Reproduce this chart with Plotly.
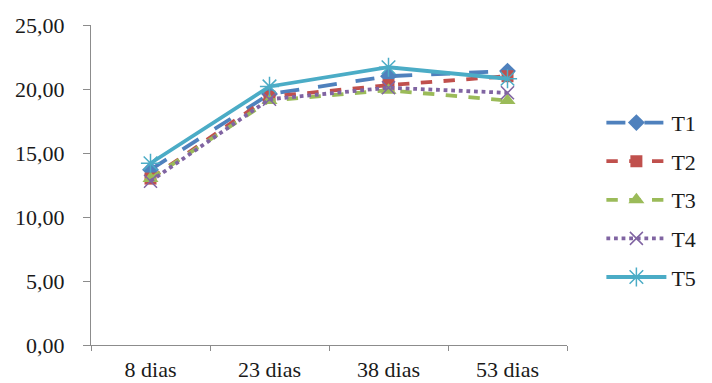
import plotly.graph_objects as go

categories = ["8 dias", "23 dias", "38 dias", "53 dias"]
t1 = [13.7, 19.6, 21.0, 21.4]
t2 = [13.0, 19.4, 20.3, 21.0]
t3 = [13.0, 19.1, 19.9, 19.1]
t4 = [12.8, 19.2, 20.1, 19.7]
t5 = [14.2, 20.2, 21.7, 20.8]
y_ticks = [0, 5, 10, 15, 20, 25]
y_tick_labels = ["0,00", "5,00", "10,00", "15,00", "20,00", "25,00"]

SERIF = "Times New Roman, Liberation Serif, serif"

series = [
    ("T1", t1, "#4F81BD", "longdash", dict(symbol="diamond", size=13)),
    ("T2", t2, "#C0504D", "dash", dict(symbol="square", size=12)),
    ("T3", t3, "#9BBB59", "dash", dict(symbol="triangle-up", size=14)),
    ("T4", t4, "#8064A2", "dot", dict(symbol="x-thin-open", size=13, line=dict(width=1.5, color="#8064A2"))),
    ("T5", t5, "#4BACC6", "solid", dict(symbol="asterisk-open", size=16, line=dict(width=1.5, color="#4BACC6"))),
]

fig = go.Figure()
for name, vals, color, dash, marker in series:
    fig.add_trace(go.Scatter(
        x=categories, y=vals, name=name, mode="lines+markers",
        line=dict(color=color, width=3.8, dash=dash),
        marker=dict(color=color, **marker),
        legendgroup=name,
    ))

fig.update_layout(
    width=712, height=383,
    margin=dict(l=91, r=144, t=25, b=38),
    plot_bgcolor="white", paper_bgcolor="white",
    font=dict(family=SERIF, size=22, color="#1a1a1a"),
    showlegend=True,
    legend=dict(
        x=1.07, y=0.76, xanchor="left", yanchor="top",
        font=dict(family=SERIF, size=22, color="#1a1a1a"),
        itemwidth=60, tracegroupgap=7, bgcolor="rgba(0,0,0,0)",
    ),
    xaxis=dict(
        type="category", showline=True, linecolor="#8c8c8c", linewidth=1,
        ticks="outside", tickson="boundaries", ticklen=5, tickcolor="#8c8c8c",
        showgrid=False, range=[-0.5, 3.5], automargin=False,
        tickfont=dict(family=SERIF, size=22), ticklabelstandoff=5,
    ),
    yaxis=dict(
        range=[0, 25], tickvals=y_ticks, ticktext=y_tick_labels,
        showline=True, linecolor="#8c8c8c", linewidth=1,
        ticks="outside", ticklen=7, tickcolor="#8c8c8c",
        showgrid=False, zeroline=False, automargin=False,
        tickfont=dict(family=SERIF, size=22), ticklabelstandoff=14,
    ),
)

fig.write_html("out.html")
